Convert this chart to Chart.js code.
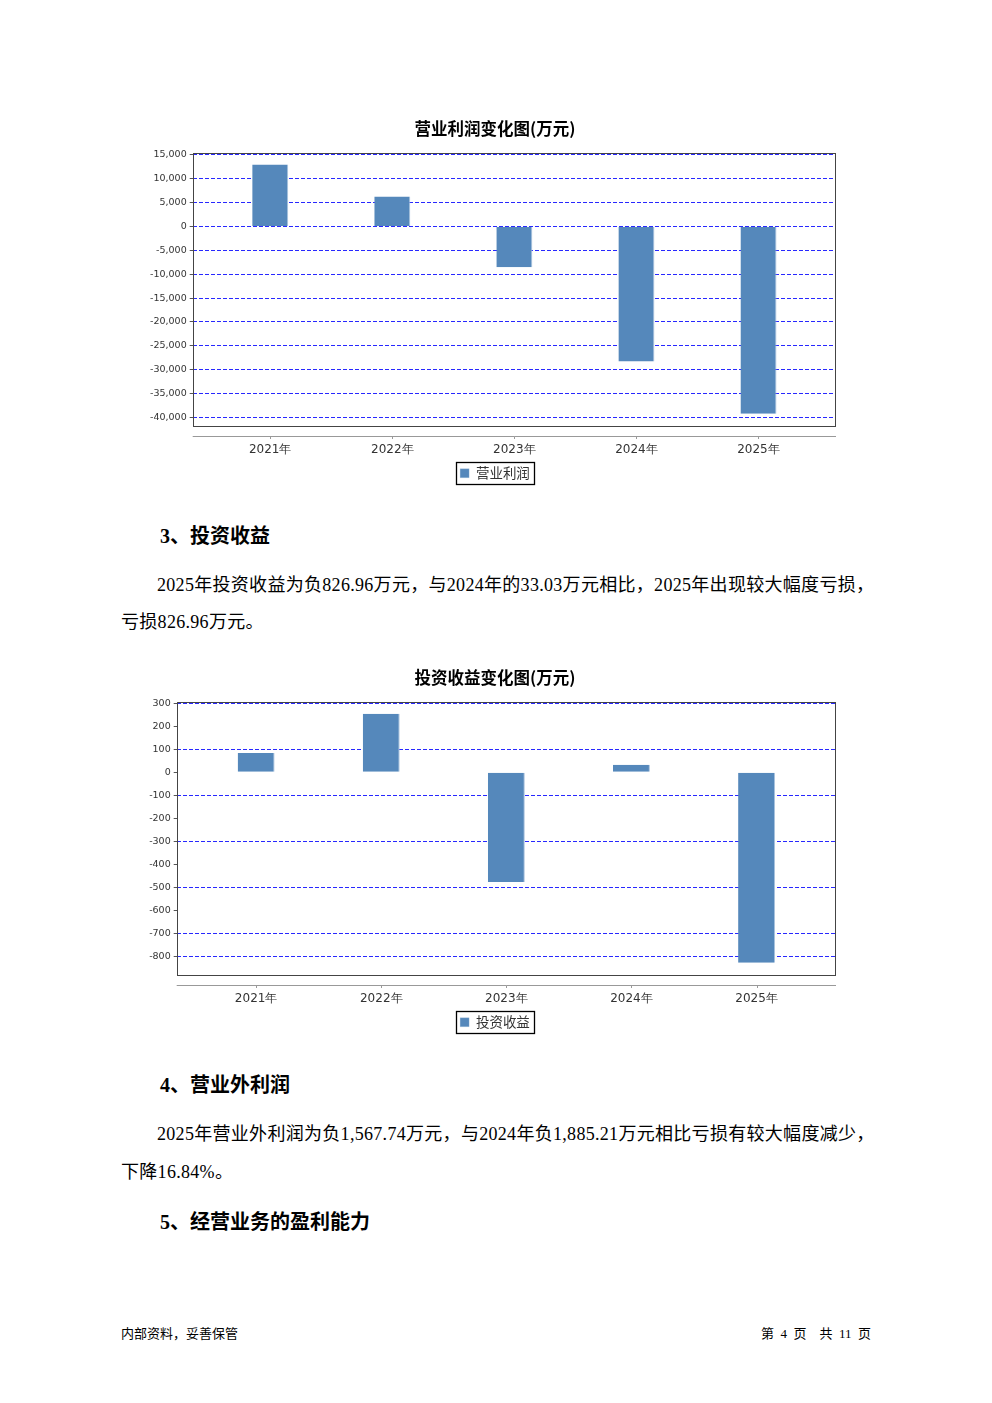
<!DOCTYPE html>
<html>
<head>
<meta charset="utf-8">
<script src="https://cdn.jsdelivr.net/npm/chart.js@4.4.1/dist/chart.umd.min.js"></script>
<style>
body { margin: 0; background: #fff; width: 992px; height: 1403px; position: relative; font-family: "Liberation Serif", "Noto Sans CJK SC", serif; color: #000; }
.t { position: absolute; white-space: nowrap; }
.h { font-weight: bold; font-size: 20px; line-height: 20px; }
.p { font-size: 18px; line-height: 18px; letter-spacing: 0.3px; }
.f { font-size: 13px; line-height: 13px; font-family: "Liberation Serif", "Noto Sans CJK SC"; }
.box { position: absolute; left: 140px; width: 710px; height: 385px; }
</style>
</head>
<body>

<div class="box" style="top:110px"><canvas id="c1"></canvas></div>

<div class="t h" style="left:160px;top:526px">3、投资收益</div>
<div class="t p" style="left:157px;top:576px">2025年投资收益为负826.96万元，与2024年的33.03万元相比，2025年出现较大幅度亏损，</div>
<div class="t p" style="left:121px;top:613px">亏损826.96万元。</div>

<div class="box" style="top:659px"><canvas id="c2"></canvas></div>

<div class="t h" style="left:160px;top:1075px">4、营业外利润</div>
<div class="t p" style="left:157px;top:1125px">2025年营业外利润为负1,567.74万元，与2024年负1,885.21万元相比亏损有较大幅度减少，</div>
<div class="t p" style="left:121px;top:1163px">下降16.84%。</div>
<div class="t h" style="left:160px;top:1212px">5、经营业务的盈利能力</div>

<div class="t f" style="left:121px;top:1327px">内部资料，妥善保管</div>
<div class="t f" style="right:121px;top:1327px">第&nbsp;&nbsp;4&nbsp;&nbsp;页&nbsp;&nbsp;&nbsp;&nbsp;共&nbsp;&nbsp;11&nbsp;&nbsp;页</div>

<script>
// 数据
const years = ['2021年', '2022年', '2023年', '2024年', '2025年'];
const profit = [13000, 6300, -8540, -28260, -39240];     // 营业利润
const invest = [84, 254, -476, 33.03, -826.96];          // 投资收益
const ticks1 = [15000, 10000, 5000, 0, -5000, -10000, -15000, -20000, -25000, -30000, -35000, -40000];
const ticks2 = [300, 200, 100, 0, -100, -200, -300, -400, -500, -600, -700, -800];
const grid2 = [300, 100, -100, -300, -500, -700, -800];  // 第二张图实际画出的网格线

const barColor = '#5588bb';
const gridColor = '#2828ff';

// 外框、下方坐标轴线、图例边框
const framePlugin = {
  id: 'frame',
  afterDraw(chart) {
    const ctx = chart.ctx;
    const a = chart.chartArea;
    const x = chart.scales.x;
    ctx.save();
    ctx.lineWidth = 1;
    ctx.strokeStyle = '#444';
    ctx.strokeRect(Math.round(a.left) + 0.5, Math.round(a.top) + 0.5, Math.round(a.width) - 1, Math.round(a.height) - 1);

    const y = Math.round(a.bottom) + 9.5;
    ctx.strokeStyle = '#999';
    ctx.beginPath();
    ctx.moveTo(a.left, y);
    ctx.lineTo(a.right, y);
    x.ticks.forEach(t => {
      const px = Math.round(x.getPixelForValue(t.value)) + 0.5;
      ctx.moveTo(px, y);
      ctx.lineTo(px, y + 2.5);
    });
    ctx.stroke();

    const l = chart.legend.legendHitBoxes[0];
    ctx.strokeStyle = '#000';
    ctx.lineWidth = 1.3;
    ctx.strokeRect(Math.round(l.left) - 3.5, Math.round(l.top) - 4.5, Math.round(l.width) + 8, Math.round(l.height) + 8);
    ctx.restore();
  }
};

function makeChart(id, title, label, values, ticks, min, max, yWidth, gridFilter) {
  return new Chart(document.getElementById(id), {
    type: 'bar',
    data: {
      datasets: [{
        label: label,
        data: values.map((v, i) => ({ x: i, y: v })),
        backgroundColor: barColor,
        borderColor: '#a9c3de',
        borderWidth: { top: 0, left: 0, bottom: 0, right: 1 },
        borderSkipped: false,
        barPercentage: 0.295,
        categoryPercentage: 1
      }]
    },
    options: {
      responsive: true,
      maintainAspectRatio: false,
      animation: false,
      layout: { padding: { left: 0, right: 0, top: 0, bottom: 5 } },
      plugins: {
        title: {
          display: true,
          text: title,
          color: '#000',
          font: { size: 16.5, weight: 'bold', family: 'Noto Sans CJK SC' },
          padding: { top: 9.2, bottom: 13.5 }
        },
        legend: {
          position: 'bottom',
          labels: {
            boxWidth: 9,
            boxHeight: 9,
            color: '#333',
            padding: 10,
            font: { size: 13.5, family: 'Noto Sans CJK SC' }
          }
        },
        tooltip: { enabled: false }
      },
      scales: {
        x: {
          type: 'linear',
          offset: false,
          min: -0.635,
          max: 4.635,
          afterBuildTicks: s => { s.ticks = years.map((y, i) => ({ value: i })); },
          afterFit: s => { s.height = 30; },
          grid: { display: false, drawTicks: false },
          border: { display: false },
          ticks: {
            callback: v => years[v],
            color: '#333',
            padding: 16,
            autoSkip: false,
            maxRotation: 0,
            font: { size: 12, family: 'DejaVu Sans' }
          }
        },
        y: {
          min: min,
          max: max,
          afterBuildTicks: s => { s.ticks = ticks.map(v => ({ value: v })); },
          afterFit: s => { s.width = yWidth; },
          border: { display: false, dash: [4, 2] },
          grid: {
            color: c => (gridFilter && !gridFilter.includes(c.tick.value)) ? 'rgba(0,0,0,0)' : gridColor,
            lineWidth: 1,
            drawTicks: true,
            tickLength: 3,
            tickColor: '#555'
          },
          ticks: {
            callback: v => v.toLocaleString('en-US'),
            color: '#333',
            padding: 3,
            font: { size: 9.5, family: 'DejaVu Sans' }
          }
        },
        // 右侧占位轴，让标题和图例居中于整页
        y2: {
          position: 'right',
          afterFit: s => { s.width = 14; },
          grid: { display: false, drawTicks: false },
          border: { display: false },
          ticks: { display: false }
        }
      }
    },
    plugins: [framePlugin]
  });
}

makeChart('c1', '营业利润变化图(万元)', '营业利润', profit, ticks1, -41900, 15500, 52.7, null);
makeChart('c2', '投资收益变化图(万元)', '投资收益', invest, ticks2, -882, 307, 36.7, grid2);
</script>
</body>
</html>
